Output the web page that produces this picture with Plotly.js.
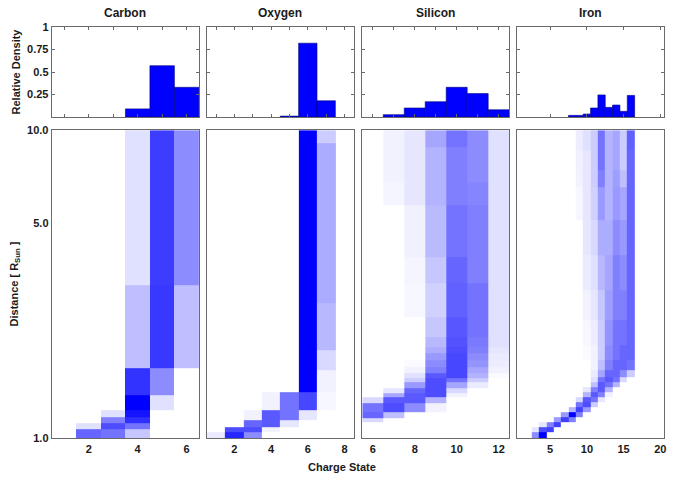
<!DOCTYPE html>
<html><head><meta charset="utf-8">
<script src="https://cdn.plot.ly/plotly-3.0.1.min.js"></script>
<style>html,body{margin:0;padding:0;background:#fff}#chart{width:680px;height:483px}</style>
</head><body><div id="chart"></div>
<script>
// ---- Data ----
const elements = ['Carbon', 'Oxygen', 'Silicon', 'Iron'];

// Top histograms: relative density at 10 R_sun
const carbonHistX = [4, 5, 6];
const carbonHistY = [0.09, 0.57, 0.33];
const oxygenHistX = [5, 6, 7];
const oxygenHistY = [0.01, 0.82, 0.18];
const siliconHistX = [7, 8, 9, 10, 11, 12];
const siliconHistY = [0.026, 0.10, 0.17, 0.33, 0.26, 0.08];
const ironHistX = [8, 9, 10, 11, 12, 13, 14, 15, 16];
const ironHistY = [0.018, 0.018, 0.033, 0.10, 0.245, 0.107, 0.133, 0.063, 0.24];

// Heatmaps: charge state columns, distance bin edges [R_sun], density rows (bottom -> top)
const carbonX = [1, 2, 3, 4, 5, 6];
const carbonR = [1.0, 1.067, 1.116, 1.173, 1.233, 1.379, 1.684, 3.14, 10];
const carbonZ = [
  [0, 0.6, 0.55, 0.22, 0, 0],
  [0, 0.12, 0.7, 0.55, 0, 0],
  [0, 0, 0.5, 0.82, 0, 0],
  [0, 0, 0.12, 0.92, 0, 0],
  [0, 0, 0, 1.0, 0.12, 0],
  [0, 0, 0, 0.8, 0.45, 0],
  [0, 0, 0, 0.25, 0.78, 0.25],
  [0, 0, 0, 0.12, 0.76, 0.45]
];

const oxygenX = [1, 2, 3, 4, 5, 6, 7, 8];
const oxygenR = [1.0, 1.048, 1.088, 1.144, 1.233, 1.413, 1.663, 1.931, 2.737, 9.05, 10];
const oxygenZ = [
  [0.08, 0.85, 0.45, 0, 0, 0, 0, 0],
  [0, 0.7, 0.7, 0.05, 0, 0, 0, 0],
  [0, 0, 0.6, 0.65, 0.1, 0, 0, 0],
  [0, 0, 0.05, 0.65, 0.55, 0.1, 0, 0],
  [0, 0, 0, 0.05, 0.55, 0.72, 0.03, 0],
  [0, 0, 0, 0, 0, 1.0, 0.05, 0],
  [0, 0, 0, 0, 0, 1.0, 0.15, 0],
  [0, 0, 0, 0, 0, 1.0, 0.28, 0],
  [0, 0, 0, 0, 0, 1.0, 0.33, 0],
  [0, 0, 0, 0, 0, 1.0, 0.2, 0]
];

const siliconX = [6, 7, 8, 9, 10, 11, 12];
const siliconR = [1.0, 1.127, 1.161, 1.214, 1.299, 1.359, 1.400, 1.453, 1.520, 1.566, 1.626,
  1.700, 1.792, 1.888, 1.974, 2.128, 2.471, 3.186, 3.870, 5.708, 6.780, 8.808, 10];
const siliconZ = [
  [0, 0, 0, 0, 0, 0, 0],
  [0.15, 0, 0, 0, 0, 0, 0],
  [0.6, 0.25, 0, 0, 0, 0, 0],
  [0.55, 0.7, 0.45, 0.05, 0, 0, 0],
  [0.15, 0.65, 0.65, 0.3, 0, 0, 0],
  [0, 0.35, 0.65, 0.7, 0.05, 0, 0],
  [0, 0.1, 0.6, 0.7, 0.15, 0, 0],
  [0, 0, 0.4, 0.7, 0.35, 0.08, 0],
  [0, 0, 0.2, 0.7, 0.55, 0.2, 0],
  [0, 0, 0.12, 0.65, 0.72, 0.3, 0.02],
  [0, 0, 0.05, 0.5, 0.72, 0.35, 0.05],
  [0, 0, 0.02, 0.45, 0.72, 0.42, 0.07],
  [0, 0, 0, 0.4, 0.72, 0.45, 0.08],
  [0, 0, 0, 0.32, 0.7, 0.5, 0.1],
  [0, 0, 0, 0.28, 0.68, 0.52, 0.12],
  [0, 0, 0, 0.22, 0.66, 0.55, 0.12],
  [0, 0, 0.03, 0.18, 0.62, 0.55, 0.12],
  [0, 0, 0.04, 0.22, 0.6, 0.5, 0.12],
  [0, 0, 0.06, 0.27, 0.55, 0.5, 0.12],
  [0, 0.04, 0.1, 0.3, 0.5, 0.48, 0.12],
  [0, 0.05, 0.1, 0.3, 0.5, 0.45, 0.12],
  [0, 0.05, 0.1, 0.35, 0.55, 0.45, 0.12]
];

const ironX = [3, 4, 5, 6, 7, 8, 9, 10, 11, 12, 13, 14, 15, 16];
const ironR = [1.0, 1.046, 1.086, 1.127, 1.170, 1.215, 1.261, 1.309, 1.359, 1.411, 1.464, 1.520,
  1.578, 1.663, 1.792, 2.004, 2.416, 3.024, 3.928, 5.103, 6.530, 7.416, 8.612, 10];
const ironZ = [
  [0.45, 1.0, 0, 0, 0, 0, 0, 0, 0, 0, 0, 0, 0, 0],
  [0.1, 0.7, 0.75, 0, 0, 0, 0, 0, 0, 0, 0, 0, 0, 0],
  [0, 0.1, 0.5, 0.75, 0, 0, 0, 0, 0, 0, 0, 0, 0, 0],
  [0, 0, 0, 0.4, 0.75, 0.5, 0, 0, 0, 0, 0, 0, 0, 0],
  [0, 0, 0, 0, 0.4, 1.0, 0.5, 0, 0, 0, 0, 0, 0, 0],
  [0, 0, 0, 0, 0, 0.3, 0.75, 0.4, 0, 0, 0, 0, 0, 0],
  [0, 0, 0, 0, 0, 0, 0.55, 0.7, 0.2, 0, 0, 0, 0, 0],
  [0, 0, 0, 0, 0, 0, 0.15, 0.65, 0.55, 0.1, 0, 0, 0, 0],
  [0, 0, 0, 0, 0, 0, 0, 0.3, 0.65, 0.5, 0.05, 0, 0, 0],
  [0, 0, 0, 0, 0, 0, 0, 0.1, 0.5, 0.65, 0.3, 0, 0, 0],
  [0, 0, 0, 0, 0, 0, 0, 0, 0.25, 0.65, 0.55, 0.3, 0, 0],
  [0, 0, 0, 0, 0, 0, 0, 0, 0.12, 0.55, 0.65, 0.55, 0.15, 0],
  [0, 0, 0, 0, 0, 0, 0, 0, 0.08, 0.35, 0.6, 0.6, 0.45, 0.2],
  [0, 0, 0, 0, 0, 0, 0, 0, 0.05, 0.25, 0.5, 0.6, 0.6, 0.55],
  [0, 0, 0, 0, 0, 0, 0, 0.02, 0.05, 0.2, 0.45, 0.55, 0.6, 0.6],
  [0, 0, 0, 0, 0, 0, 0, 0.03, 0.07, 0.2, 0.42, 0.55, 0.55, 0.6],
  [0, 0, 0, 0, 0, 0, 0, 0.05, 0.1, 0.22, 0.38, 0.5, 0.5, 0.6],
  [0, 0, 0, 0, 0, 0, 0, 0.08, 0.12, 0.28, 0.35, 0.5, 0.45, 0.6],
  [0, 0, 0, 0, 0, 0, 0, 0.1, 0.15, 0.32, 0.32, 0.45, 0.4, 0.6],
  [0, 0, 0, 0, 0, 0, 0.03, 0.1, 0.18, 0.4, 0.3, 0.4, 0.35, 0.6],
  [0, 0, 0, 0, 0, 0, 0.05, 0.1, 0.2, 0.5, 0.3, 0.38, 0.25, 0.6],
  [0, 0, 0, 0, 0, 0, 0.06, 0.1, 0.2, 0.55, 0.3, 0.35, 0.2, 0.6],
  [0, 0, 0, 0, 0, 0, 0.07, 0.12, 0.2, 0.55, 0.3, 0.35, 0.2, 0.62]
];

const xRanges = [[0.5, 6.5], [0.5, 8.5], [5.5, 12.5], [0.5, 20.5]];
const xTickVals = [[2, 4, 6], [2, 4, 6, 8], [6, 8, 10, 12], [5, 10, 15, 20]];
const topDticks = [1, 1, 1, 5];
const densityTicks = [0.25, 0.5, 0.75, 1];
const densityTickText = ['0.25', '0.5', '0.75', '1'];
const distTicks = [1, 5, 10];
const distTickText = ['1.0', '5.0', '10.0'];

// ---- Build ----
const hists = [[carbonHistX, carbonHistY], [oxygenHistX, oxygenHistY], [siliconHistX, siliconHistY], [ironHistX, ironHistY]];
const maps = [[carbonX, carbonR, carbonZ], [oxygenX, oxygenR, oxygenZ], [siliconX, siliconR, siliconZ], [ironX, ironR, ironZ]];

const xDomains = [[0, 0.240], [0.253, 0.493], [0.507, 0.747], [0.760, 1.0]];
const topDomain = [0.781, 1];
const botDomain = [0, 0.749];

const font = {family: 'Liberation Sans, Arial, sans-serif', size: 11, color: '#1a1a1a', weight: 'bold'};
const frame = '#6a6a6a';
const cs = [[0, '#ffffff'], [1, '#0000ff']];

const traces = [];
const layout = {
  width: 680, height: 483,
  margin: {l: 52, r: 16, t: 27, b: 45},
  paper_bgcolor: '#fff', plot_bgcolor: '#fff',
  showlegend: false, bargap: 0,
  font: font,
  annotations: []
};

for (let i = 0; i < 4; i++) {
  const tn = i + 1, bn = i + 5;
  traces.push({
    type: 'bar', x: hists[i][0], y: hists[i][1], width: 1,
    xaxis: 'x' + (tn === 1 ? '' : tn), yaxis: 'y' + (tn === 1 ? '' : tn),
    marker: {color: '#0000ff', line: {color: '#00007a', width: 0.6}},
    hoverinfo: 'skip'
  });
  traces.push({
    type: 'heatmap', x: maps[i][0], y: maps[i][1], z: maps[i][2],
    xaxis: 'x' + bn, yaxis: 'y' + bn,
    colorscale: cs, zmin: 0, zmax: 1, showscale: false, zsmooth: false,
    hoverinfo: 'skip'
  });
  const tk = tn === 1 ? '' : String(tn);
  layout['xaxis' + tk] = {
    domain: xDomains[i], anchor: 'y' + tk, range: xRanges[i],
    showticklabels: false, ticks: 'inside', ticklen: 3, tickcolor: frame,
    tick0: 0, dtick: topDticks[i],
    showline: true, mirror: 'ticks', linecolor: frame, linewidth: 1.3,
    showgrid: false, zeroline: false
  };
  layout['yaxis' + tk] = {
    domain: topDomain, anchor: 'x' + tk, range: [0, 1],
    tickmode: 'array', tickvals: densityTicks, ticktext: densityTickText,
    showticklabels: i === 0, ticks: 'inside', ticklen: 3, tickcolor: frame,
    showline: true, mirror: 'ticks', linecolor: frame, linewidth: 1.3,
    showgrid: false, zeroline: false, tickfont: font
  };
  layout['xaxis' + bn] = {
    domain: xDomains[i], anchor: 'y' + bn, range: xRanges[i],
    tickmode: 'array', tickvals: xTickVals[i], ticks: '', tickfont: font,
    showline: true, mirror: true, linecolor: frame, linewidth: 1.3,
    showgrid: false, zeroline: false
  };
  layout['yaxis' + bn] = {
    domain: botDomain, anchor: 'x' + bn, type: 'log', range: [0, 1],
    tickmode: 'array', tickvals: distTicks, ticktext: distTickText,
    showticklabels: i === 0, ticks: '', tickfont: font,
    showline: true, mirror: true, linecolor: frame, linewidth: 1.3,
    showgrid: false, zeroline: false
  };
  layout.annotations.push({
    text: elements[i], xref: 'paper', yref: 'paper',
    x: (xDomains[i][0] + xDomains[i][1]) / 2, y: 1.034,
    xanchor: 'center', yanchor: 'middle', showarrow: false,
    font: {family: font.family, size: 12, color: '#1a1a1a', weight: 'bold'}
  });
}
layout.yaxis.title = {text: 'Relative Density', font: {family: font.family, size: 11, color: '#1a1a1a', weight: 'bold'}, standoff: 4};
layout.yaxis5.title = {text: 'Distance [ R<sub>Sun</sub> ]', font: {family: font.family, size: 11, color: '#1a1a1a', weight: 'bold'}, standoff: 6};
layout.annotations.push({
  text: 'Charge State', xref: 'paper', yref: 'paper',
  x: 0.474, y: -0.071, xanchor: 'center', yanchor: 'middle', showarrow: false,
  font: {family: font.family, size: 11, color: '#1a1a1a', weight: 'bold'}
});

Plotly.newPlot('chart', traces, layout, {staticPlot: true, displayModeBar: false});
</script>
</body></html>
